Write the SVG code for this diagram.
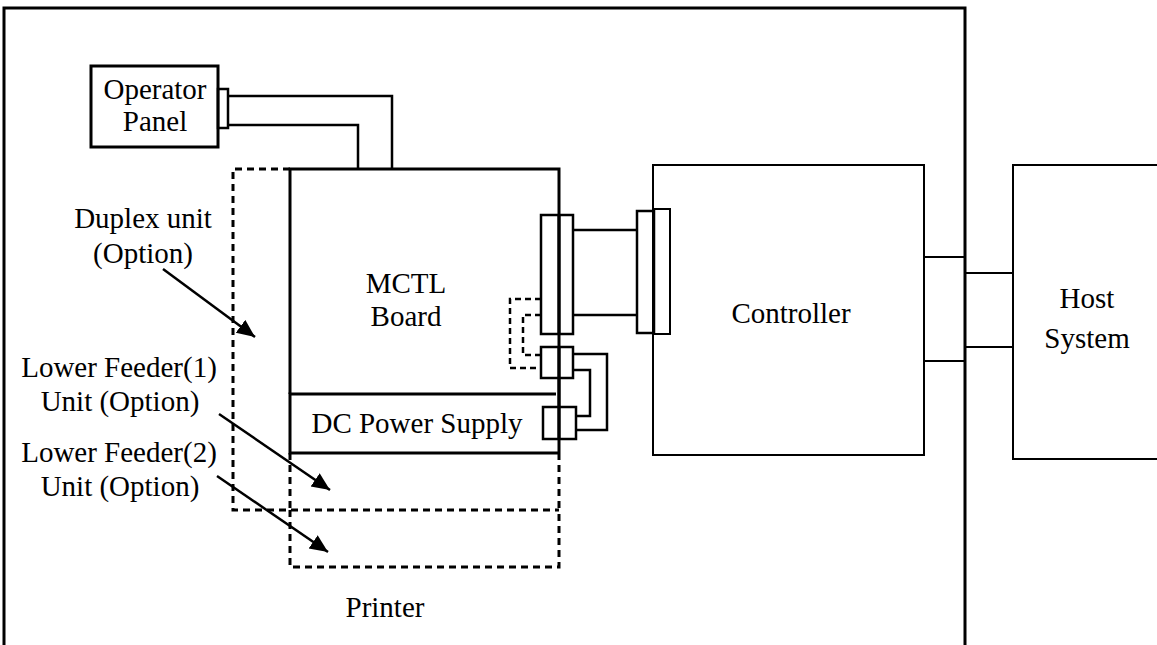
<svg xmlns="http://www.w3.org/2000/svg" width="1157" height="645" viewBox="0 0 1157 645">
<style>
text{font-family:"Liberation Serif","Times New Roman",serif;font-size:29px;fill:#000;text-anchor:middle}
.thick{fill:none;stroke:#000;stroke-width:3}
.med{fill:none;stroke:#000;stroke-width:2.5}
.thin{fill:none;stroke:#000;stroke-width:2}
.dash{fill:none;stroke:#000;stroke-width:3;stroke-dasharray:7 5}
.arrow{fill:none;stroke:#000;stroke-width:2.5;marker-end:url(#ah)}
</style>
<defs>
<marker id="ah" markerUnits="userSpaceOnUse" markerWidth="20" markerHeight="18" refX="18" refY="8" orient="auto">
<path d="M0,0 L18,8 L0,16 Z" fill="#000"/>
</marker>
</defs>
<rect width="1157" height="645" fill="#fff"/>
<g id="printer">
<path class="thick" d="M4,645 V8 H965 V645"/>
<text x="385" y="617">Printer</text>
</g>
<g id="duplex-unit">
<path class="dash" d="M290,169 H233 V510 H559"/>
<text x="143" y="228">Duplex unit</text>
<text x="143" y="263">(Option)</text>
</g>
<g id="lower-feeder-1">
<path class="dash" d="M290,453 V510 M559,453 V510"/>
<text x="119" y="377">Lower Feeder(1)</text>
<text x="120" y="411">Unit (Option)</text>
</g>
<g id="lower-feeder-2">
<path class="dash" d="M290,510 V567 H559 V510"/>
<text x="119" y="462">Lower Feeder(2)</text>
<text x="120" y="496">Unit (Option)</text>
</g>
<g id="operator-panel">
<rect class="thick" x="91" y="66" width="127" height="81"/>
<rect class="med" x="218" y="89" width="10" height="39"/>
<text x="155" y="99">Operator</text>
<text x="155" y="131">Panel</text>
</g>
<g id="mctl-board">
<path class="thick" d="M290,394 V169 H559 V453"/>
<text x="406" y="293">MCTL</text>
<text x="406" y="326">Board</text>
</g>
<g id="dc-power-supply">
<path class="thick" d="M556,394 H290 V453 H559"/>
<text x="417" y="433">DC Power Supply</text>
</g>
<g id="controller">
<rect class="thin" x="653" y="165" width="271" height="290"/>
<text x="791" y="323">Controller</text>
</g>
<g id="host-system">
<rect class="thin" x="1013" y="165" width="160" height="294"/>
<text x="1087" y="308">Host</text>
<text x="1087" y="348">System</text>
</g>
<g id="connectors">
<path class="med" d="M228,96 H392 V169 M228,125 H358 V169"/>
<rect class="med" x="541" y="215" width="32" height="119"/>
<line class="thick" x1="559" y1="215" x2="559" y2="334"/>
<rect class="med" x="637" y="211" width="17" height="122"/>
<rect class="thin" x="654" y="209" width="16" height="125"/>
<line class="thin" x1="653" y1="209" x2="653" y2="334"/>
<path class="med" d="M573,230 H637 M573,315 H637"/>
<rect class="med" x="541" y="347" width="32" height="31"/>
<rect class="med" x="543" y="407" width="33" height="32"/>
<line class="thick" x1="559" y1="347" x2="559" y2="439"/>
<path class="med" d="M573,354 H607 V430 H576 M573,370 H590 V416 H576"/>
<path class="dash" style="stroke-dasharray:6 4;stroke-width:2.5" d="M541,299 H510 V368 H541 M541,315 H523 V355 H541"/>
<path class="thin" d="M924,257 H965 M924,361 H965 M965,273 H1013 M965,347 H1013"/>
<line class="arrow" x1="163" y1="269" x2="255" y2="337"/>
<line class="arrow" x1="219" y1="414" x2="330" y2="490"/>
<line class="arrow" x1="217" y1="476" x2="328" y2="552"/>
</g>
</svg>
